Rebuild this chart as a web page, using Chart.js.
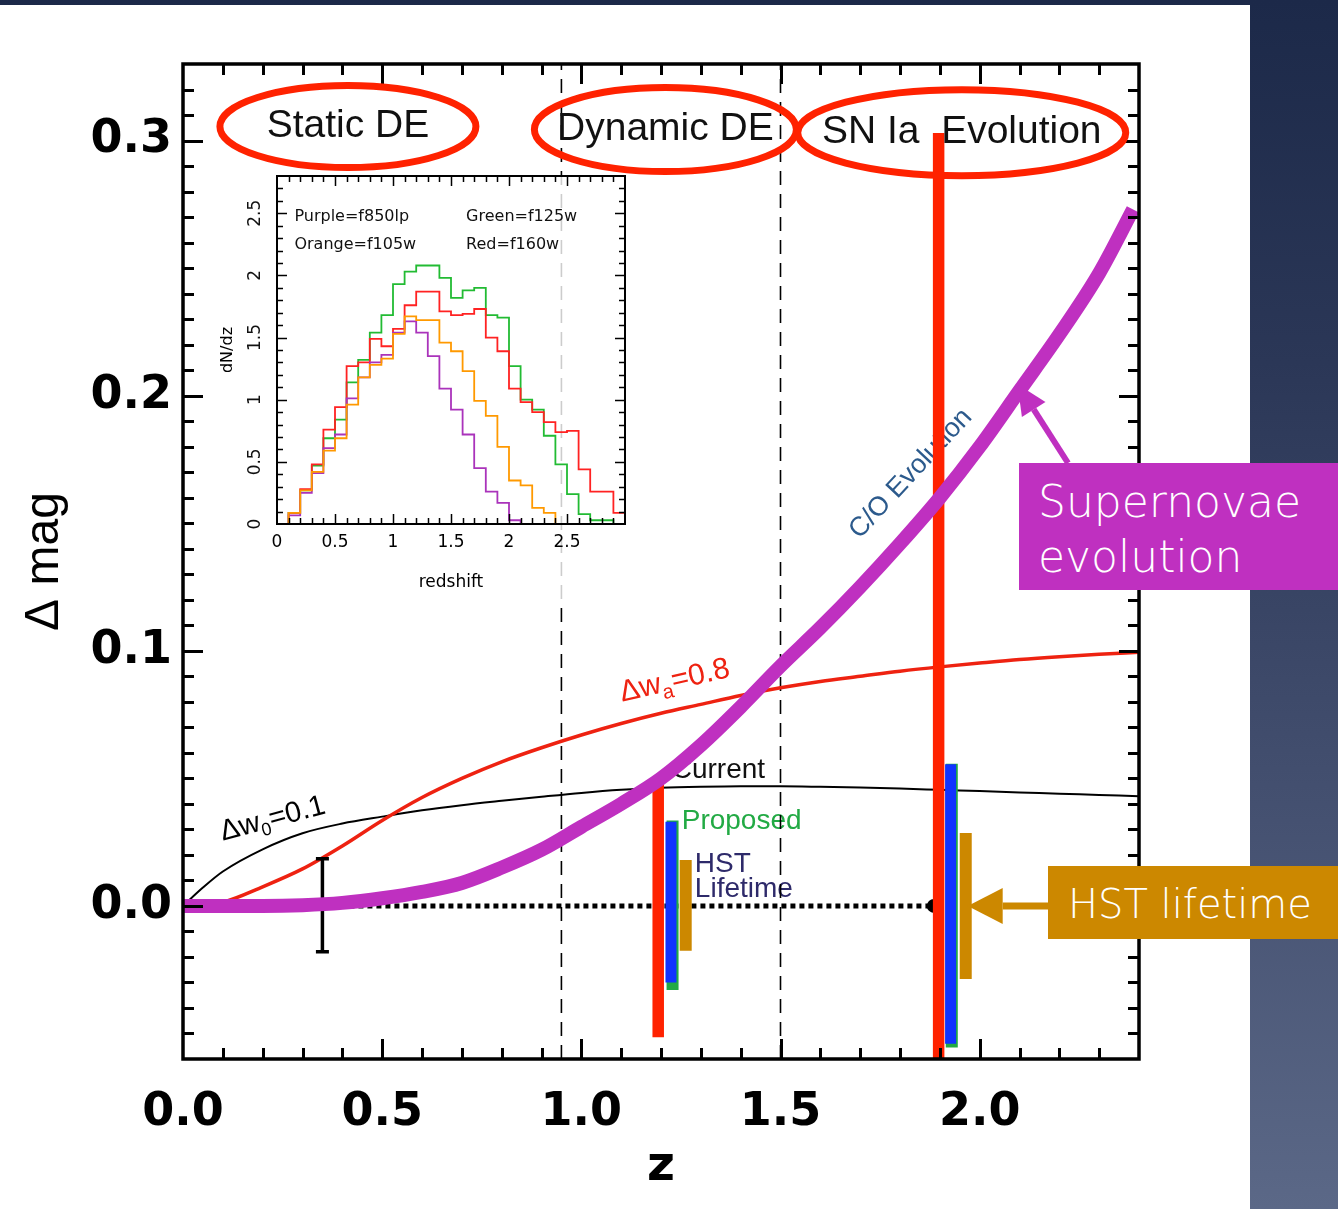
<!DOCTYPE html>
<html>
<head>
<meta charset="utf-8">
<title>Δ mag versus redshift</title>
<script src="https://cdn.jsdelivr.net/npm/chart.js@4.4.1/dist/chart.umd.min.js"></script>
<style>
  html, body { margin: 0; padding: 0; }
  body { position: relative; width: 1338px; height: 1209px; overflow: hidden;
         background: linear-gradient(180deg, #1c2949 0%, #2b3757 30%, #434f6f 65%, #5b6887 100%); }
  #panel { position: absolute; left: 0; top: 5px; width: 1250px; height: 1204px; background: #fff; }
  #main { position: absolute; left: 0; top: 0; }
  #inset { position: absolute; left: 215px; top: 175px; background: rgba(255,255,255,0.8); }
  .tag { position: absolute; color: #fff; font-family: "DejaVu Sans", sans-serif; font-weight: 200; white-space: nowrap; }
  #snTag { left: 1019px; top: 463px; width: 300px; height: 116px; padding: 11px 0 0 19px; background: #bf30c0; font-size: 44px; line-height: 55px; }
  #hstTag { left: 1048px; top: 866px; width: 270px; height: 70px; padding: 3px 0 0 20px; background: #cc8800; font-size: 40px; line-height: 70px; }
</style>
</head>
<body>
<div id="panel"></div>
<canvas id="main" width="1338" height="1209"></canvas>
<canvas id="inset" width="420" height="425"></canvas>
<div class="tag" id="snTag">Supernovae<br>evolution</div>
<div class="tag" id="hstTag">HST lifetime</div>

<script>
// ---------- main panel: model curves ----------
const zGrid   = [0, 0.1, 0.2, 0.3, 0.4, 0.5, 0.6, 0.7, 0.8, 0.9, 1.0, 1.1, 1.2, 1.3, 1.4, 1.5, 1.6, 1.7, 1.8, 1.9, 2.0, 2.1, 2.2, 2.3, 2.4];
const dw0Z    = [0, 0.05, 0.1, 0.2, 0.3, 0.4, 0.5, 0.6, 0.7, 0.8, 0.9, 1.0, 1.1, 1.2, 1.3, 1.4, 1.5, 1.6, 1.7, 1.8, 1.9, 2.0, 2.1, 2.2, 2.3, 2.4];
const dw0Mag  = [0, 0.0072, 0.0135, 0.0222, 0.0285, 0.0323, 0.035, 0.0375, 0.0395, 0.0412, 0.0428, 0.0443, 0.0455, 0.0463, 0.0467, 0.0469, 0.0469, 0.0467, 0.0464, 0.046, 0.0455, 0.045, 0.0445, 0.044, 0.0435, 0.043];
const dwaMag  = [0, 0.0015, 0.0075, 0.0145, 0.0235, 0.0335, 0.0425, 0.050, 0.0565, 0.062, 0.067, 0.0715, 0.0755, 0.079, 0.0825, 0.0855, 0.088, 0.090, 0.092, 0.0937, 0.0952, 0.0966, 0.0977, 0.0986, 0.0994];
const snEvoZ  = [0, 0.1, 0.2, 0.3, 0.4, 0.5, 0.6, 0.7, 0.8, 0.9, 1.0, 1.1, 1.2, 1.3, 1.4, 1.5, 1.6, 1.7, 1.8, 1.9, 2.0, 2.1, 2.2, 2.3, 2.385];
const snEvoMag = [0, 0, 0, 0.0003, 0.0012, 0.003, 0.0055, 0.009, 0.015, 0.022, 0.031, 0.040, 0.050, 0.063, 0.078, 0.094, 0.109, 0.125, 0.142, 0.160, 0.180, 0.202, 0.224, 0.248, 0.273];

// regime boundaries (static / dynamic DE / SN Ia evolution)
const regimeBounds = [0.95, 1.5];

// error bars: redshift, upper and lower ends
const refBarZ = [0.35],          refBarHi = [0.0185],          refBarLo = [-0.018];
const currentZ = [1.193, 1.897], currentHi = [0.0496, 0.303],  currentLo = [-0.0515, -0.303];
const proposedZ = [1.229, 1.930], proposedHi = [0.0335, 0.0557], proposedLo = [-0.0330, -0.0555];
const hstZ = [1.225, 1.927],     hstHi = [0.0330, 0.0555],     hstLo = [-0.0300, -0.0540];
const lifetimeZ = [1.262, 1.965], lifetimeHi = [0.018, 0.0286], lifetimeLo = [-0.0176, -0.0286];
const zeroLineZ = [0.35, 1.885];
const markerZ = [1.885], markerMag = [0];

// axis ticks
const xTickValues = [0, 0.5, 1.0, 1.5, 2.0];
const yTickValues = [0, 0.1, 0.2, 0.3];

// ---------- inset: dN/dz histograms (bins of 0.1 in redshift) ----------
const histEdges = [0, 0.1, 0.2, 0.3, 0.4, 0.5, 0.6, 0.7, 0.8, 0.9, 1.0, 1.1, 1.2, 1.3, 1.4, 1.5, 1.6, 1.7, 1.8, 1.9, 2.0, 2.1, 2.2, 2.3, 2.4, 2.5, 2.6, 2.7, 2.8, 2.9, 3.0];
const histGreen  = [0, 0.09, 0.27, 0.47, 0.69, 0.84, 1.14, 1.32, 1.54, 1.68, 1.93, 2.03, 2.08, 2.08, 1.98, 1.82, 1.88, 1.90, 1.68, 1.66, 1.27, 1.00, 0.92, 0.71, 0.48, 0.24, 0.08, 0.03, 0.03, 0];
const histRed    = [0, 0.09, 0.28, 0.48, 0.76, 0.94, 1.27, 1.30, 1.49, 1.43, 1.57, 1.76, 1.87, 1.87, 1.71, 1.68, 1.69, 1.73, 1.50, 1.39, 1.09, 0.98, 0.90, 0.82, 0.74, 0.75, 0.44, 0.26, 0.26, 0.09];
const histOrange = [0, 0.09, 0.27, 0.42, 0.59, 0.69, 0.96, 1.18, 1.28, 1.33, 1.53, 1.67, 1.64, 1.64, 1.46, 1.39, 1.23, 0.99, 0.87, 0.62, 0.35, 0.31, 0.13, 0.09, 0, 0, 0, 0, 0, 0];
const histPurple = [0, 0.07, 0.25, 0.41, 0.61, 0.72, 1.01, 1.18, 1.30, 1.36, 1.54, 1.63, 1.54, 1.35, 1.09, 0.92, 0.72, 0.45, 0.26, 0.17, 0.03, 0, 0, 0, 0, 0, 0, 0, 0, 0];
const insetXTicks = [0, 0.5, 1, 1.5, 2, 2.5];
const insetYTicks = [0, 0.5, 1, 1.5, 2, 2.5];

// ---------- helpers ----------
const xy = (xs, ys) => xs.map((x, i) => ({ x, y: ys[i] }));

function lineSet(data, color, width, extra) {
  return Object.assign({ data, borderColor: color, backgroundColor: color, borderWidth: width,
    pointRadius: 0, fill: false, borderCapStyle: 'butt' }, extra || {});
}

function barSets(zs, hi, lo, color, width, extra) {
  return zs.map((z, i) => lineSet([{ x: z, y: hi[i] }, { x: z, y: lo[i] }], color, width, extra));
}

// inward frame ticks on all four sides
const frameTicks = {
  id: 'frameTicks',
  afterDatasetsDraw(chart, args, o) {
    const { ctx, chartArea: a, scales: { x, y } } = chart;
    const isMajor = (v, m) => Math.abs(v / m - Math.round(v / m)) < 1e-6;
    ctx.save();
    ctx.strokeStyle = '#000';
    ctx.lineWidth = o.lineWidth;
    ctx.beginPath();
    const nx = Math.round((x.max - x.min) / o.xStep);
    for (let k = 1; k < nx; k++) {
      const v = x.min + k * o.xStep;
      const px = Math.round(x.getPixelForValue(v)) + 0.5;
      const len = isMajor(v, o.xMajor) ? o.majorLen : o.minorLen;
      ctx.moveTo(px, a.bottom); ctx.lineTo(px, a.bottom - len);
      ctx.moveTo(px, a.top); ctx.lineTo(px, a.top + len);
    }
    const k0 = Math.ceil(y.min / o.yStep - 1e-6), k1 = Math.floor(y.max / o.yStep + 1e-6);
    for (let k = k0; k <= k1; k++) {
      const v = k * o.yStep;
      const py = Math.round(y.getPixelForValue(v)) + 0.5;
      if (py <= a.top + 1 || py >= a.bottom - 1) continue;
      const len = isMajor(v, o.yMajor) ? o.majorLen : o.minorLen;
      ctx.moveTo(a.left, py); ctx.lineTo(a.left + len, py);
      ctx.moveTo(a.right, py); ctx.lineTo(a.right - len, py);
    }
    ctx.stroke();
    ctx.lineWidth = o.frameWidth;
    ctx.strokeRect(a.left, a.top, a.right - a.left, a.bottom - a.top);
    ctx.restore();
  }
};

function drawRich(ctx, x, y, angle, parts, color) {
  ctx.save();
  ctx.translate(x, y);
  ctx.rotate(angle);
  ctx.fillStyle = color;
  ctx.textAlign = 'left';
  ctx.textBaseline = 'alphabetic';
  let cx = 0;
  for (const p of parts) {
    ctx.font = p.font;
    ctx.fillText(p.text, cx, p.dy || 0);
    cx += ctx.measureText(p.text).width;
  }
  ctx.restore();
}

function drawArrow(ctx, x0, y0, x1, y1, color, width, headLen, headHalf) {
  const ang = Math.atan2(y1 - y0, x1 - x0);
  const bx = x1 - headLen * Math.cos(ang), by = y1 - headLen * Math.sin(ang);
  ctx.save();
  ctx.strokeStyle = color; ctx.fillStyle = color; ctx.lineWidth = width;
  ctx.beginPath(); ctx.moveTo(x0, y0); ctx.lineTo(bx, by); ctx.stroke();
  ctx.beginPath();
  ctx.moveTo(x1, y1);
  ctx.lineTo(bx + headHalf * Math.sin(ang), by - headHalf * Math.cos(ang));
  ctx.lineTo(bx - headHalf * Math.sin(ang), by + headHalf * Math.cos(ang));
  ctx.closePath(); ctx.fill();
  ctx.restore();
}

// labels, regime ellipses, arrows and error-bar caps of the main panel
const mainNotes = {
  id: 'mainNotes',
  beforeDatasetsDraw(chart) {
    const { ctx, scales: { x, y } } = chart;
    const sans = s => s + 'px "Liberation Sans", Arial, sans-serif';
    drawRich(ctx, x.getPixelForValue(0.1), y.getPixelForValue(0.0255), -15 * Math.PI / 180,
      [{ text: 'Δw', font: sans(29) }, { text: '0', font: sans(18), dy: 6 }, { text: '=0.1', font: sans(29) }], '#000');
    drawRich(ctx, x.getPixelForValue(1.102), y.getPixelForValue(0.080), -13 * Math.PI / 180,
      [{ text: 'Δw', font: sans(30) }, { text: 'a', font: sans(20), dy: 7 }, { text: '=0.8', font: sans(30) }], '#ee2211');
    drawRich(ctx, x.getPixelForValue(1.227), y.getPixelForValue(0.0502), 0, [{ text: 'Current', font: sans(28) }], '#111');
    drawRich(ctx, x.getPixelForValue(1.252), y.getPixelForValue(0.0302), 0, [{ text: 'Proposed', font: sans(28) }], '#22aa44');
    drawRich(ctx, x.getPixelForValue(1.285), y.getPixelForValue(0.0133), 0, [{ text: 'HST', font: sans(28) }], '#2e2a6a');
    drawRich(ctx, x.getPixelForValue(1.285), y.getPixelForValue(0.0035), 0, [{ text: 'Lifetime', font: sans(28) }], '#2e2a6a');
    ctx.save();
    ctx.translate(x.getPixelForValue(1.827), y.getPixelForValue(0.1694));
    ctx.rotate(-47 * Math.PI / 180);
    ctx.font = sans(27);
    ctx.fillStyle = '#2c5a8c';
    ctx.textAlign = 'center';
    ctx.textBaseline = 'middle';
    ctx.fillText('C/O Evolution', 0, 0);
    ctx.restore();
  },
  afterDatasetsDraw(chart) {
    const { ctx, scales: { x, y } } = chart;
    // caps on the reference error bar
    chart.data.datasets.forEach((ds, i) => {
      if (!ds.capWidth) return;
      const pts = chart.getDatasetMeta(i).data;
      ctx.save();
      ctx.strokeStyle = ds.borderColor; ctx.lineWidth = 3.5;
      ctx.beginPath();
      for (const p of pts) { ctx.moveTo(p.x - ds.capWidth / 2, p.y); ctx.lineTo(p.x + ds.capWidth / 2, p.y); }
      ctx.stroke();
      ctx.restore();
    });
    // regime labels circled in red
    const regimes = [
      { text: 'Static DE', z: 0.414, m: 0.3055, rx: 128, ry: 41 },
      { text: 'Dynamic DE', z: 1.211, m: 0.3043, rx: 131, ry: 42 },
      { text: 'SN Ia  Evolution', z: 1.955, m: 0.3031, rx: 164, ry: 43 }
    ];
    ctx.save();
    for (const r of regimes) {
      const cx = x.getPixelForValue(r.z), cy = y.getPixelForValue(r.m);
      ctx.font = '39px "Liberation Sans", Arial, sans-serif';
      ctx.fillStyle = '#111';
      ctx.textAlign = 'center';
      ctx.textBaseline = 'middle';
      ctx.fillText(r.text, cx, cy);
      ctx.strokeStyle = '#ff2200';
      ctx.lineWidth = 7;
      ctx.beginPath();
      ctx.ellipse(cx, cy, r.rx, r.ry, 0, 0, Math.PI * 2);
      ctx.stroke();
    }
    ctx.restore();
    // call-out arrows from the side boxes
    drawArrow(ctx, 1068, 463, x.getPixelForValue(2.095), y.getPixelForValue(0.2045), '#bf30c0', 6, 30, 14);
    drawArrow(ctx, 1048, y.getPixelForValue(0), x.getPixelForValue(1.97), y.getPixelForValue(0), '#cc8800', 7, 35, 18);
  }
};

// ---------- main chart ----------
const mainSets = [];
regimeBounds.forEach(z => mainSets.push(lineSet([{ x: z, y: -0.06 }, { x: z, y: 0.33 }], '#000', 1.6, { borderDash: [14, 9] })));
mainSets.push(lineSet(xy(dw0Z, dw0Mag), '#000', 2, { cubicInterpolationMode: 'monotone' }));
mainSets.push(lineSet(xy(zGrid, dwaMag), '#ee2211', 3.5, { cubicInterpolationMode: 'monotone' }));
mainSets.push(lineSet(zeroLineZ.map(z => ({ x: z, y: 0 })), '#000', 5, { borderDash: [5, 4] }));
mainSets.push(lineSet(xy(markerZ, markerMag), '#000', 0, { showLine: false, pointRadius: 7, pointBackgroundColor: '#000', pointBorderWidth: 0 }));
mainSets.push(...barSets(refBarZ, refBarHi, refBarLo, '#000', 3.5, { capWidth: 13 }));
mainSets.push(...barSets(proposedZ, proposedHi, proposedLo, '#22aa44', 12));
mainSets.push(...barSets(hstZ, hstHi, hstLo, '#1133ff', 11));
mainSets.push(...barSets(lifetimeZ, lifetimeHi, lifetimeLo, '#cc8800', 12));
mainSets.push(...barSets(currentZ, currentHi, currentLo, '#ff2200', 11.5));
mainSets.push(lineSet(xy(snEvoZ, snEvoMag), '#bf30c0', 14, { cubicInterpolationMode: 'monotone' }));
mainSets.forEach((d, i) => { d.order = mainSets.length - i; });

const mainChart = new Chart(document.getElementById('main'), {
  type: 'line',
  data: { datasets: mainSets },
  options: {
    responsive: false,
    animation: false,
    events: [],
    layout: { padding: { top: 64, right: 199, bottom: 0, left: 0 } },
    plugins: {
      legend: { display: false },
      tooltip: { enabled: false },
      frameTicks: { xStep: 0.1, xMajor: 0.5, yStep: 0.01, yMajor: 0.1, minorLen: 11, majorLen: 20, lineWidth: 3, frameWidth: 3.5 }
    },
    scales: {
      x: {
        type: 'linear', min: 0, max: 2.4,
        afterBuildTicks: s => { s.ticks = xTickValues.map(v => ({ value: v })); },
        afterFit: s => { s.height = 150; },
        grid: { display: false, drawTicks: false },
        border: { display: false },
        ticks: { font: { family: 'DejaVu Sans', weight: 'bold', size: 46 }, color: '#000', padding: 26,
                 maxRotation: 0, autoSkip: false, callback: v => Number(v).toFixed(1) },
        title: { display: true, text: 'z', color: '#000', font: { family: 'DejaVu Sans', weight: 'bold', size: 48 },
                 padding: { top: 0, bottom: 13 } }
      },
      y: {
        type: 'linear', min: -0.06, max: 0.33,
        afterBuildTicks: s => { s.ticks = yTickValues.map(v => ({ value: v })); },
        afterFit: s => { s.width = 183; },
        grid: { display: false, drawTicks: false },
        border: { display: false },
        ticks: { font: { family: 'DejaVu Sans', weight: 'bold', size: 46 }, color: '#000', padding: 11,
                 autoSkip: false, callback: v => Number(v).toFixed(1) },
        title: { display: true, text: 'Δ mag', color: '#000', font: { family: 'Liberation Sans', size: 48 },
                 padding: { top: 16, bottom: 0 } }
      }
    }
  },
  plugins: [frameTicks, mainNotes]
});

// ---------- inset chart ----------
const histSet = (vals, color) => lineSet(histEdges.map((e, i) => ({ x: e, y: vals[Math.min(i, vals.length - 1)] })),
  color, 1.8, { stepped: 'before', borderCapStyle: 'butt', borderJoinStyle: 'miter' });

const insetNotes = {
  id: 'insetNotes',
  afterDatasetsDraw(chart) {
    const { ctx, scales: { x, y } } = chart;
    ctx.save();
    ctx.fillStyle = '#111';
    ctx.font = '16px "DejaVu Sans", sans-serif';
    ctx.textBaseline = 'alphabetic';
    ctx.textAlign = 'left';
    ctx.fillText('Purple=f850lp', x.getPixelForValue(0.15), y.getPixelForValue(2.44));
    ctx.fillText('Green=f125w', x.getPixelForValue(1.63), y.getPixelForValue(2.44));
    ctx.fillText('Orange=f105w', x.getPixelForValue(0.15), y.getPixelForValue(2.21));
    ctx.fillText('Red=f160w', x.getPixelForValue(1.63), y.getPixelForValue(2.21));
    // rotated y tick labels
    ctx.font = '17px "DejaVu Sans", sans-serif';
    ctx.textAlign = 'center';
    ctx.textBaseline = 'middle';
    for (const v of insetYTicks) {
      ctx.save();
      ctx.translate(41, y.getPixelForValue(v));
      ctx.rotate(-Math.PI / 2);
      ctx.fillText(String(v), 0, 0);
      ctx.restore();
    }
    ctx.restore();
  }
};

new Chart(document.getElementById('inset'), {
  type: 'line',
  data: { datasets: [
    histSet(histOrange, '#ff9900'),
    histSet(histPurple, '#aa33bb'),
    histSet(histRed, '#ff2222'),
    histSet(histGreen, '#22bb33')
  ] },
  options: {
    responsive: false,
    animation: false,
    events: [],
    layout: { padding: { top: 1, right: 10, bottom: 0, left: 0 } },
    plugins: {
      legend: { display: false },
      tooltip: { enabled: false },
      frameTicks: { xStep: 0.1, xMajor: 0.5, yStep: 0.1, yMajor: 0.5, minorLen: 6, majorLen: 10, lineWidth: 1.5, frameWidth: 2 }
    },
    scales: {
      x: {
        type: 'linear', min: 0, max: 3,
        afterBuildTicks: s => { s.ticks = insetXTicks.map(v => ({ value: v })); },
        afterFit: s => { s.height = 76; },
        grid: { display: false, drawTicks: false },
        border: { display: false },
        ticks: { font: { family: 'DejaVu Sans', size: 17 }, color: '#000', padding: 8, maxRotation: 0, autoSkip: false,
                 callback: v => String(v) },
        title: { display: true, text: 'redshift', color: '#000', font: { family: 'DejaVu Sans', size: 17 },
                 padding: { top: 0, bottom: 7 } }
      },
      y: {
        type: 'linear', min: 0, max: 2.8,
        afterBuildTicks: s => { s.ticks = insetYTicks.map(v => ({ value: v })); },
        afterFit: s => { s.width = 62; },
        grid: { display: false, drawTicks: false },
        border: { display: false },
        ticks: { display: false },
        title: { display: true, text: 'dN/dz', color: '#000', font: { family: 'DejaVu Sans', size: 16 },
                 padding: { top: 3, bottom: 0 } }
      }
    }
  },
  plugins: [frameTicks, insetNotes]
});
</script>
</body>
</html>
